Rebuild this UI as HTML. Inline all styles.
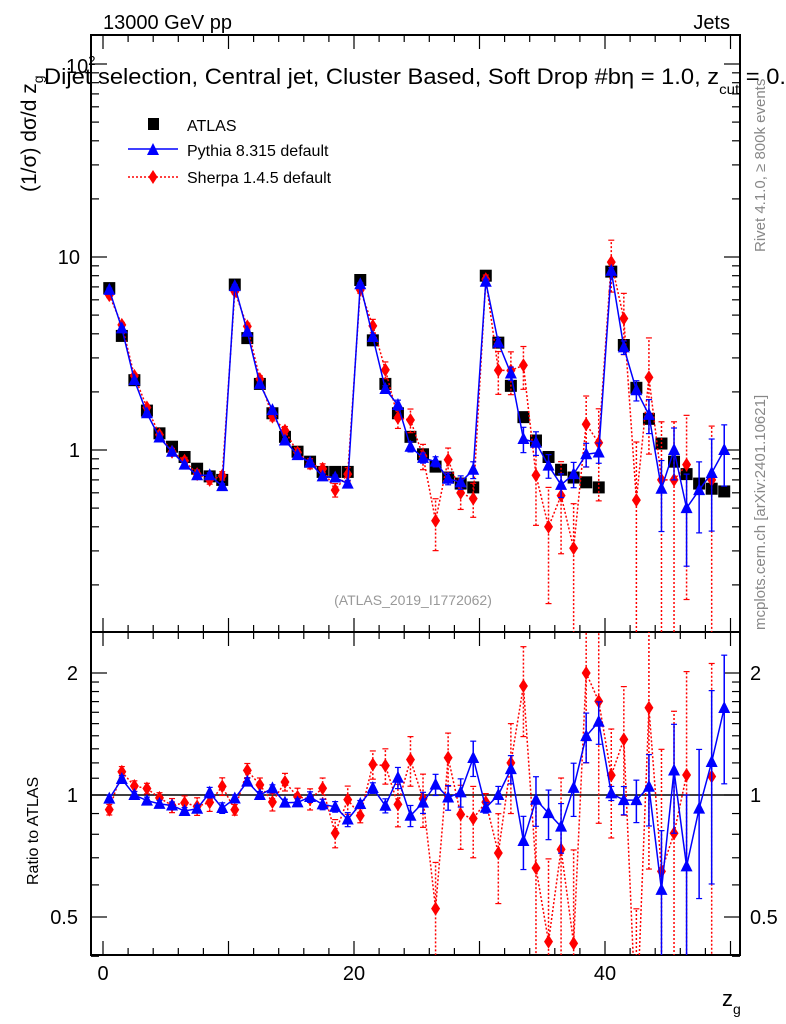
<!DOCTYPE html>
<html><head><meta charset="utf-8"><style>
html,body{margin:0;background:#fff;width:786px;height:1024px;overflow:hidden}
svg{display:block;font-family:"Liberation Sans",sans-serif;position:absolute;left:0;top:0}
</style></head><body>
<svg id="c" width="786" height="1024" viewBox="0 0 786 1024">
<g id="axes"></g><g id="marks"></g><g id="labels"></g>
</svg>
<script>
const atlasValues=[6.9,3.9,2.3,1.6,1.22,1.04,0.92,0.8,0.73,0.70,7.2,3.8,2.2,1.55,1.17,0.98,0.87,0.77,0.77,0.77,7.6,3.7,2.2,1.55,1.17,0.95,0.82,0.72,0.67,0.64,8.0,3.6,2.15,1.48,1.12,0.92,0.79,0.72,0.68,0.64,8.4,3.5,2.1,1.45,1.08,0.87,0.75,0.67,0.63,0.61];
const pythiaValues=[6.76,4.27,2.3,1.55,1.16,0.98,0.84,0.74,0.74,0.65,7.06,4.1,2.2,1.61,1.12,0.94,0.86,0.73,0.72,0.67,7.22,3.85,2.07,1.71,1.04,0.91,0.87,0.71,0.68,0.79,7.44,3.6,2.49,1.14,1.09,0.83,0.66,0.75,0.95,0.97,8.48,3.4,2.04,1.52,0.63,1.0,0.50,0.62,0.76,1.0];
const pythiaErr=[0.02,0.02,0.02,0.02,0.02,0.02,0.02,0.02,0.03,0.03,0.02,0.02,0.02,0.02,0.02,0.02,0.03,0.03,0.03,0.04,0.02,0.03,0.04,0.06,0.06,0.06,0.06,0.07,0.08,0.1,0.03,0.05,0.08,0.15,0.14,0.14,0.14,0.15,0.14,0.12,0.04,0.08,0.12,0.2,0.4,0.3,0.5,0.4,0.5,0.35];
const sherpaValues=[6.35,4.45,2.42,1.66,1.2,0.98,0.88,0.75,0.70,0.735,6.62,4.37,2.33,1.49,1.26,0.97,0.85,0.80,0.62,0.75,6.76,4.4,2.6,1.47,1.43,0.93,0.43,0.89,0.60,0.56,7.68,2.59,2.58,2.75,0.74,0.40,0.58,0.31,1.36,1.09,9.4,4.8,0.55,2.38,0.70,0.70,0.84,null,0.70,null];
const sherpaErr=[0.03,0.03,0.03,0.03,0.03,0.04,0.04,0.05,0.05,0.05,0.03,0.04,0.04,0.05,0.05,0.05,0.06,0.06,0.08,0.08,0.04,0.08,0.1,0.12,0.14,0.15,0.3,0.15,0.18,0.2,0.05,0.25,0.25,0.25,0.45,0.6,0.5,0.7,0.4,0.5,0.3,0.35,1.0,0.6,1.0,1.0,0.8,null,0.9,null];
const xTickLabels=[0,20,40];
const mainTickLabels=[1,10,100];
const ratioTickLabels=[0.5,1,2];

const L=91,R=740,T=35,MB=632,RB=955;
const X=v=>103+v*12.55;
const Y=v=>450-193*Math.log10(v);
const RY=v=>795-122*Math.log2(v);
const NS="http://www.w3.org/2000/svg";
function el(p,t,a){const e=document.createElementNS(NS,t);for(const k in a)e.setAttribute(k,a[k]);p.appendChild(e);return e;}
const ax=document.getElementById('axes'),mk=document.getElementById('marks'),lb=document.getElementById('labels');
const cp=el(mk,'clipPath',{id:'cm'});el(cp,'rect',{x:L,y:T,width:R-L,height:MB-T});
const cr=el(mk,'clipPath',{id:'cr'});el(cr,'rect',{x:L,y:MB,width:R-L,height:RB-MB});
let f=el(ax,'rect',{x:L,y:T,width:R-L,height:MB-T,fill:'none',stroke:'#000','stroke-width':2});

f=el(ax,'rect',{x:L,y:MB,width:R-L,height:RB-MB,fill:'none',stroke:'#000','stroke-width':2});

for(let v=0;v<=50;v+=2){const maj=v%10==0,len=maj?14:7,x=X(v);
 [[T,1],[MB,-1],[MB,1],[RB,-1]].forEach(([y,d])=>el(ax,'line',{x1:x,x2:x,y1:y,y2:y+d*len,stroke:'#000','stroke-width':1.2}));}
xTickLabels.forEach(v=>{const t=el(lb,'text',{x:X(v),y:980,'font-size':20,'text-anchor':'middle'});t.textContent=v;
 });
for(let d=-1;d<=2;d++)for(let m=1;m<10;m++){const v=m*Math.pow(10,d),y=Y(v);if(y<T||y>MB)continue;const len=m==1?16:8;
 el(ax,'line',{x1:L,x2:L+len,y1:y,y2:y,stroke:'#000','stroke-width':1.2});el(ax,'line',{x1:R,x2:R-len,y1:y,y2:y,stroke:'#000','stroke-width':1.2});}
mainTickLabels.forEach(v=>{let t;if(v==100){t=el(lb,'text',{x:66,y:73,'font-size':20});t.innerHTML='10<tspan dy="-8" font-size="13">2</tspan>';}
 else{t=el(lb,'text',{x:80,y:Y(v)+7,'font-size':20,'text-anchor':'end'});t.textContent=v;}
 });
[0.4,0.5,0.6,0.7,0.8,0.9,1,1.1,1.2,1.3,1.4,1.5,1.6,1.7,1.8,1.9,2].forEach(v=>{const y=RY(v);const len=[0.5,1,2].includes(v)?16:8;
 el(ax,'line',{x1:L,x2:L+len,y1:y,y2:y,stroke:'#000','stroke-width':1.2});el(ax,'line',{x1:R,x2:R-len,y1:y,y2:y,stroke:'#000','stroke-width':1.2});});
ratioTickLabels.forEach(v=>{let t=el(lb,'text',{x:78,y:RY(v)+7,'font-size':20,'text-anchor':'end'});t.textContent=v;
 
 t=el(lb,'text',{x:750,y:RY(v)+7,'font-size':20});t.textContent=v;
 });
el(ax,'line',{x1:L,x2:R,y1:RY(1),y2:RY(1),stroke:'#000','stroke-width':1.5});

function tri(g,x,y,c){return el(g,'polygon',{points:`${x-6},${y+5} ${x+6},${y+5} ${x},${y-7}`,fill:c});}
function dia(g,x,y,c){return el(g,'polygon',{points:`${x},${y-7} ${x+4.5},${y} ${x},${y+7} ${x-4.5},${y}`,fill:c});}
function series(vals,errs,color,dash,marker,name,ratio,clip){
 const g=el(mk,'g',{'clip-path':`url(#${clip})`});
 
 const yf=ratio?RY:Y;let pts=[];
 vals.forEach((v,i)=>{if(v==null){if(pts.length>1)el(g,'polyline',{points:pts.join(' '),fill:'none',stroke:color,'stroke-width':1.5,'stroke-dasharray':dash});pts=[];return;}
  const val=ratio?v/atlasValues[i]:v;pts.push(X(i+0.5)+','+yf(val));});
 if(pts.length>1)el(g,'polyline',{points:pts.join(' '),fill:'none',stroke:color,'stroke-width':1.5,'stroke-dasharray':dash});
 vals.forEach((v,i)=>{if(v==null)return;const val=ratio?v/atlasValues[i]:v,e=errs[i]*val,x=X(i+0.5);
  const lo=val-e>0?yf(val-e):2000,hi=yf(val+e);
  el(g,'line',{x1:x,x2:x,y1:lo,y2:hi,stroke:color,'stroke-width':1.5,'stroke-dasharray':dash});
  el(g,'line',{x1:x-3,x2:x+3,y1:hi,y2:hi,stroke:color,'stroke-width':1.2});el(g,'line',{x1:x-3,x2:x+3,y1:lo,y2:lo,stroke:color,'stroke-width':1.2});
  const m=marker(g,x,yf(val),color);});
}
const ag=el(mk,'g',{'clip-path':'url(#cm)'});
atlasValues.forEach((v,i)=>{const r=el(ag,'rect',{x:X(i+0.5)-6,y:Y(v)-6,width:12,height:12,fill:'#000'});
 });
series(sherpaValues,sherpaErr,'#f00','2,2',dia,'sherpa',false,'cm');
series(pythiaValues,pythiaErr,'#00f','',tri,'pythia',false,'cm');
series(sherpaValues,sherpaErr,'#f00','2,2',dia,'sherpa',true,'cr');
series(pythiaValues,pythiaErr,'#00f','',tri,'pythia',true,'cr');
const lg=el(lb,'g',{});
el(lg,'rect',{x:148,y:118,width:11,height:12,fill:'#000'});
el(lg,'line',{x1:128,x2:178,y1:149,y2:149,stroke:'#00f','stroke-width':1.5});tri(lg,153,150,'#00f');
el(lg,'line',{x1:128,x2:178,y1:177,y2:177,stroke:'#f00','stroke-width':1.5,'stroke-dasharray':'2,2'});dia(lg,153,177,'#f00');
[['ATLAS',131],['Pythia 8.315 default',156],['Sherpa 1.4.5 default',183]].forEach(([s,y])=>{const t=el(lg,'text',{x:187,y:y,'font-size':16});t.textContent=s;
 });
</script>
<svg width="786" height="1024" font-family="Liberation Sans, sans-serif">
<text x="103" y="29" font-size="20">13000 GeV pp</text>
<text x="730" y="29" font-size="20" text-anchor="end">Jets</text>
<text x="44" y="84" font-size="22" textLength="742" lengthAdjust="spacingAndGlyphs">Dijet selection, Central jet, Cluster Based, Soft Drop #bη = 1.0, z<tspan dy="10" font-size="14">cut</tspan><tspan dy="-10"> = 0.</tspan></text>
<text x="413" y="605" font-size="14" fill="#999" text-anchor="middle">(ATLAS_2019_I1772062)</text>
<text transform="translate(765,252) rotate(-90)" font-size="15" fill="#888">Rivet 4.1.0, ≥ 800k events</text>
<text transform="translate(765,630) rotate(-90)" font-size="15" fill="#888">mcplots.cern.ch [arXiv:2401.10621]</text>
<text transform="translate(36,192) rotate(-90)" font-size="21">(1/σ) dσ/d z<tspan dy="7" font-size="14">g</tspan></text>
<text transform="translate(38,885) rotate(-90)" font-size="16">Ratio to ATLAS</text>
<text x="722" y="1006" font-size="22">z<tspan dy="8" font-size="14">g</tspan></text>
</svg>
</body></html>
